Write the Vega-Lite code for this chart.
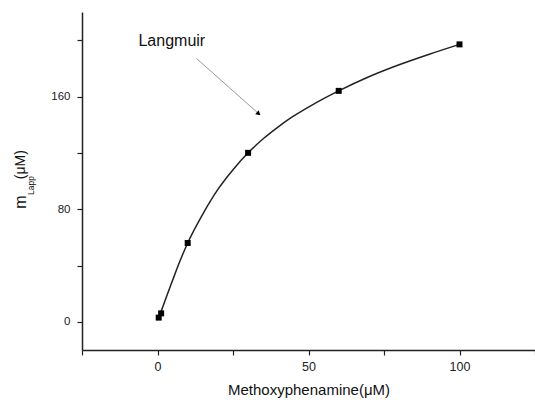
{
  "$schema": "https://vega.github.io/schema/vega-lite/v6.json",
  "width": 453,
  "height": 338,
  "autosize": "none",
  "padding": {"left": 82, "top": 12, "right": 0, "bottom": 50},
  "background": "white",
  "config": {
    "view": {"stroke": null},
    "font": "Arial",
    "text": {"font": "Arial", "fontWeight": "normal"},
    "axis": {"grid": false, "domainColor": "#222", "domainWidth": 1.5, "tickColor": "#222", "tickWidth": 1.2, "labelColor": "#222", "labelFont": "Arial", "titleFont": "Arial", "titleColor": "#111", "titleFontWeight": "normal"}
  },
  "datasets": {
    "points": [
      {"conc": 0.4, "m": 3},
      {"conc": 1.2, "m": 6},
      {"conc": 10, "m": 56},
      {"conc": 30, "m": 120},
      {"conc": 60, "m": 164},
      {"conc": 100, "m": 197}
    ],
    "curve": [
      {"conc": 0.8, "m": 5},
      {"conc": 3, "m": 18},
      {"conc": 5, "m": 29.5},
      {"conc": 7.5, "m": 43.5},
      {"conc": 10, "m": 56},
      {"conc": 15, "m": 76.5},
      {"conc": 20, "m": 94},
      {"conc": 25, "m": 108},
      {"conc": 30, "m": 120},
      {"conc": 35, "m": 130},
      {"conc": 40, "m": 138.5},
      {"conc": 45, "m": 146},
      {"conc": 50, "m": 152.5},
      {"conc": 55, "m": 158.5},
      {"conc": 60, "m": 164},
      {"conc": 70, "m": 174},
      {"conc": 80, "m": 182.5},
      {"conc": 90, "m": 190},
      {"conc": 100, "m": 197}
    ]
  },
  "layer": [
    {
      "data": {"name": "curve"},
      "mark": {"type": "line", "color": "#222", "strokeWidth": 1.5, "interpolate": "monotone"},
      "encoding": {
        "x": {"field": "conc", "type": "quantitative", "scale": {"domain": [-25, 125], "nice": false, "zero": false},
          "axis": {"values": [-25, 0, 25, 50, 75, 100, 125], "labelExpr": "datum.value % 50 === 0 ? datum.label : ''", "tickSize": 5, "labelFontSize": 12.5, "labelPadding": 5, "title": "Methoxyphenamine(μM)", "titleFontSize": 15, "titlePadding": 10}},
        "y": {"field": "m", "type": "quantitative", "scale": {"domain": [-20, 220], "nice": false, "zero": false},
          "axis": {"values": [0, 40, 80, 120, 160, 200], "labelExpr": "datum.value % 80 === 0 ? datum.label : ''", "tickSize": 5, "labelFontSize": 11.5, "labelPadding": 7, "title": null}}
      }
    },
    {
      "data": {"name": "points"},
      "mark": {"type": "point", "shape": "square", "filled": true, "color": "#000", "size": 36, "opacity": 1},
      "encoding": {
        "x": {"field": "conc", "type": "quantitative"},
        "y": {"field": "m", "type": "quantitative"}
      }
    },
    {
      "data": {"values": [{}]},
      "mark": {"type": "text", "text": "Langmuir", "fontSize": 16, "fontWeight": "normal", "align": "left", "baseline": "alphabetic", "color": "#111"},
      "encoding": {"x": {"datum": -6.3}, "y": {"datum": 196.2}}
    },
    {
      "data": {"values": [{}]},
      "mark": {"type": "rule", "color": "#999", "strokeWidth": 1},
      "encoding": {"x": {"datum": 12.9}, "y": {"datum": 187}, "x2": {"datum": 33.5}, "y2": {"datum": 147.8}}
    },
    {
      "data": {"values": [{}]},
      "mark": {"type": "point", "shape": "triangle-right", "filled": true, "color": "#000", "size": 28, "angle": 41, "opacity": 1},
      "encoding": {"x": {"datum": 33.5}, "y": {"datum": 147.8}}
    },
    {
      "data": {"values": [{}]},
      "mark": {"type": "text", "text": "m", "fontSize": 16, "fontWeight": "normal", "angle": 270, "align": "center", "baseline": "middle", "color": "#111", "clip": false},
      "encoding": {"x": {"datum": -45.2}, "y": {"datum": 85.1}}
    },
    {
      "data": {"values": [{}]},
      "mark": {"type": "text", "text": "Lapp", "fontSize": 8.5, "fontWeight": "normal", "angle": 270, "align": "center", "baseline": "middle", "color": "#111", "clip": false},
      "encoding": {"x": {"datum": -41.9}, "y": {"datum": 96.8}}
    },
    {
      "data": {"values": [{}]},
      "mark": {"type": "text", "text": "(μM)", "fontSize": 14, "fontWeight": "normal", "angle": 270, "align": "center", "baseline": "middle", "color": "#111", "clip": false},
      "encoding": {"x": {"datum": -45.2}, "y": {"datum": 111.6}}
    }
  ]
}
